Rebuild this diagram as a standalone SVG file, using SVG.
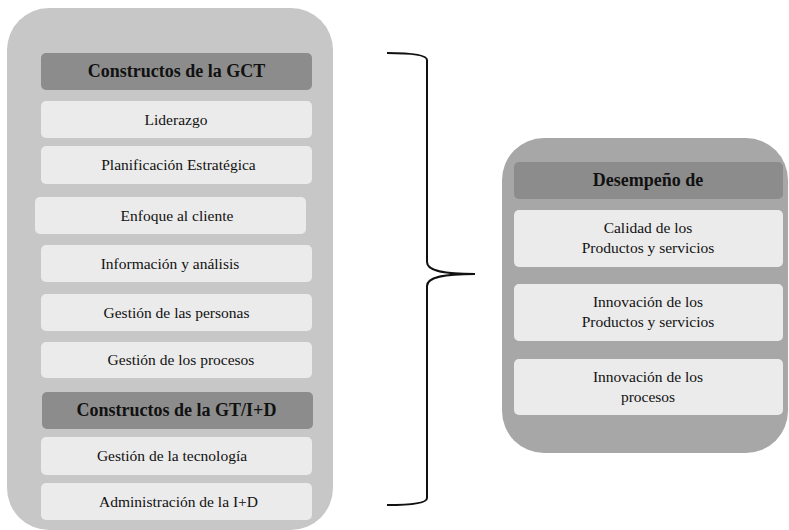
<svg xmlns="http://www.w3.org/2000/svg" width="789" height="530" viewBox="0 0 789 530">
<style>
.cont{fill:#c7c7c7}
.cont2{fill:#a7a7a7}
.hdr{fill:#8c8c8c}
.box{fill:#ebebeb}
text{fill:#111;text-anchor:middle}
.h{font-size:18px;font-weight:bold}
.t{font-size:15.5px}
.brace{fill:none;stroke:#111;stroke-width:2}
</style>
<rect x="0" y="0" width="789" height="530" fill="#fff"/>
<g id="left-container">
<rect class="cont" x="7" y="8" width="326" height="522" rx="42"/>
</g>
<g font-family="Liberation Serif, Tinos, DejaVu Serif, serif">
<g id="gct-header"><rect class="hdr" x="41" y="53" width="271" height="37" rx="5"/><text class="h" x="176.5" y="77">Constructos de la GCT</text></g>
<g id="liderazgo"><rect class="box" x="41" y="101" width="271" height="37" rx="5"/><text class="t" x="176" y="125">Liderazgo</text></g>
<g id="planificacion"><rect class="box" x="41" y="146" width="271" height="38" rx="5"/><text class="t" x="178.5" y="170">Planificación Estratégica</text></g>
<g id="enfoque"><rect class="box" x="35" y="197" width="271" height="37" rx="5"/><text class="t" x="177" y="221">Enfoque al cliente</text></g>
<g id="informacion"><rect class="box" x="41" y="245" width="271" height="37" rx="5"/><text class="t" x="170" y="269">Información y análisis</text></g>
<g id="personas"><rect class="box" x="41" y="294" width="271" height="37" rx="5"/><text class="t" x="176.5" y="318">Gestión de las personas</text></g>
<g id="procesos"><rect class="box" x="41" y="342" width="271" height="36" rx="5"/><text class="t" x="181" y="365">Gestión de los procesos</text></g>
<g id="gt-header"><rect class="hdr" x="42" y="392" width="271" height="37" rx="5"/><text class="h" x="176.5" y="416">Constructos de la GT/I+D</text></g>
<g id="tecnologia"><rect class="box" x="41" y="437" width="271" height="38" rx="5"/><text class="t" x="172" y="461">Gestión de la tecnología</text></g>
<g id="administracion"><rect class="box" x="41" y="483" width="271" height="37" rx="5"/><text class="t" x="178.5" y="507">Administración de la I+D</text></g>
</g>
<g id="connectors">
<path class="brace" d="M387,53 C410,53 427,55 427,60 L427,262 C427,270 440,274 475,274 C440,274 427,278 427,286 L427,498 C427,503 410,505 387,505"/>
</g>
<g id="right-container">
<rect class="cont2" x="502" y="138" width="286" height="315" rx="42"/>
</g>
<g font-family="Liberation Serif, Tinos, DejaVu Serif, serif">
<g id="desempeno-header"><rect class="hdr" x="514" y="162" width="269" height="37" rx="5"/><text class="h" x="648" y="186">Desempeño de</text></g>
<g id="calidad"><rect class="box" x="514" y="210" width="269" height="57" rx="5"/><text class="t" x="648" y="233">Calidad de los</text><text class="t" x="648" y="253">Productos y servicios</text></g>
<g id="innovacion-productos"><rect class="box" x="514" y="284" width="269" height="57" rx="5"/><text class="t" x="648" y="307">Innovación de los</text><text class="t" x="648" y="327">Productos y servicios</text></g>
<g id="innovacion-procesos"><rect class="box" x="514" y="359" width="269" height="56" rx="5"/><text class="t" x="648" y="382">Innovación de los</text><text class="t" x="648" y="402">procesos</text></g>
</g>
</svg>
